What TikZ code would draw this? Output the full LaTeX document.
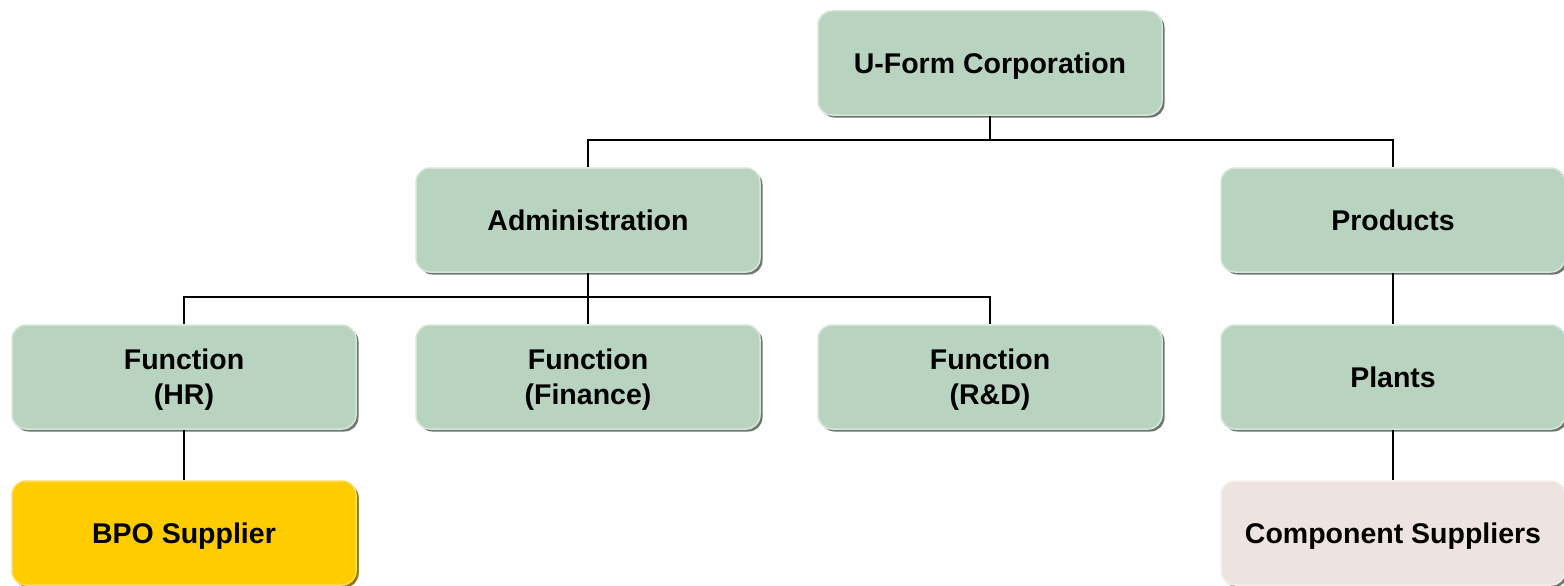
\documentclass[tikz,border=0pt]{standalone}
\usepackage{fontspec}
\setmainfont{Liberation Sans}
\definecolor{sage}{RGB}{185,211,193}
\definecolor{sageedge}{RGB}{214,230,219}
\definecolor{gold}{RGB}{255,204,0}
\definecolor{goldedge}{RGB}{255,221,90}
\definecolor{blush}{RGB}{237,227,225}
\definecolor{blushedge}{RGB}{245,239,238}
\definecolor{shade}{RGB}{110,118,112}
\tikzset{
  x=1pt, y=-1pt,
  orgbox/.style={rectangle, rounded corners=14pt, minimum width=344pt, minimum height=104pt,
    fill=sage, draw=sageedge, line width=1.5pt, align=center, text depth=0pt,
    font=\fontsize{28.5}{35}\selectfont\bfseries, text=black,
    preaction={fill=shade, transform canvas={xshift=2.5pt, yshift=-2.5pt}}},
  goldbox/.style={orgbox, fill=gold, draw=goldedge,
    preaction={fill=gold!60!black, transform canvas={xshift=2.5pt, yshift=-2.5pt}}},
  blushbox/.style={orgbox, fill=blush, draw=blushedge},
  link/.style={draw=black, line width=2.2pt}
}
\begin{document}
\begin{tikzpicture}
\useasboundingbox (0,0) rectangle (1564,586);
\fill[white] (0,0) rectangle (1564,586);
% tree levels
\node[orgbox] (corp) at (990,63) {U-Form Corporation};
\node[orgbox] (admin) at (588,220) {Administration};
\node[orgbox] (prod) at (1393,220) {Products};
\node[orgbox] (hr) at (184,377) {Function\\(HR)};
\node[orgbox] (fin) at (588,377) {Function\\(Finance)};
\node[orgbox] (rd) at (990,377) {Function\\(R\&D)};
\node[orgbox] (plants) at (1393,377) {Plants};
\node[goldbox] (bpo) at (184,533) {BPO Supplier};
\node[blushbox] (comp) at (1393,533) {Component Suppliers};
% bus junctions
\coordinate (busA) at (990,140);
\coordinate (busB) at (588,297);
% connectors
\draw[link] (corp.south) -- (busA);
\draw[link] (admin.north) |- (busA) -| (prod.north);
\draw[link] (admin.south) -- (busB);
\draw[link] (hr.north) |- (busB) -| (rd.north);
\draw[link] (busB) -- (fin.north);
\draw[link] (prod.south) -- (plants.north);
\draw[link] (hr.south) -- (bpo.north);
\draw[link] (plants.south) -- (comp.north);
\end{tikzpicture}
\end{document}
